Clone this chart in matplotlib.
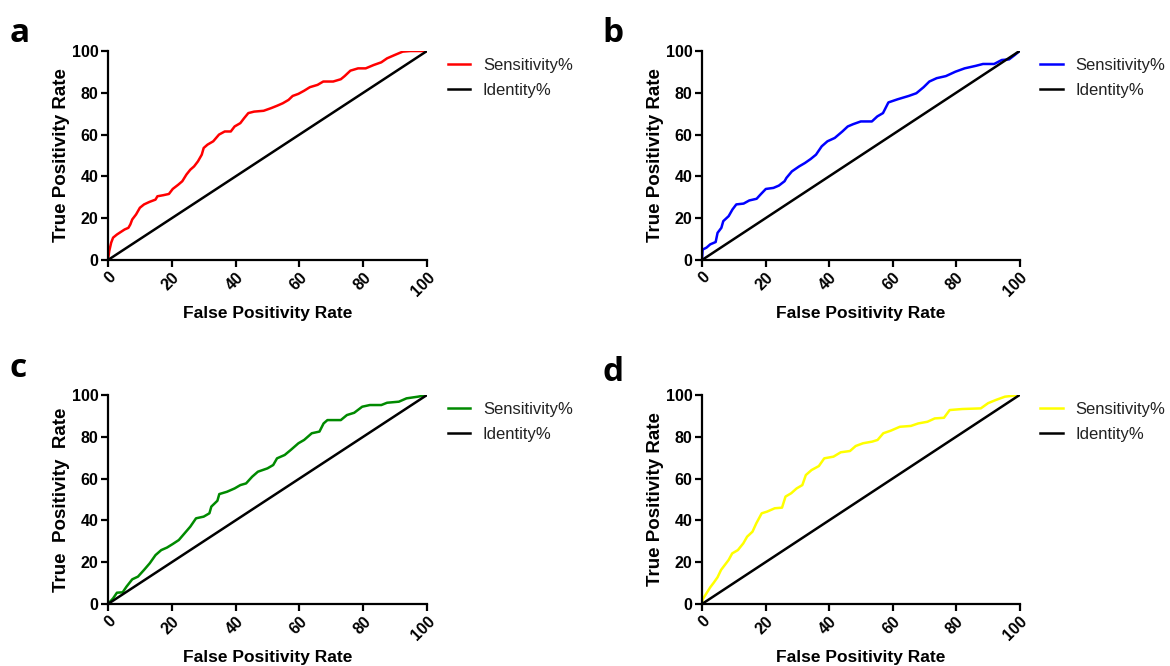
import matplotlib
matplotlib.use('Agg')
import matplotlib.pyplot as plt

plt.rcParams['font.family'] = ['Liberation Sans', 'DejaVu Sans']

# ROC curves (false positive %, true positive %)
fpr_a = [0, 0.4, 1, 1.6, 2.8, 4, 5.2, 6.4, 7, 7.6, 8.8, 10, 11.3, 13, 14.9, 15.5, 17.3, 19.1,
         20.3, 22, 23.3, 24.6, 25.8, 27, 28.2, 29.4, 30, 31.2, 33, 34.8, 36.6, 38.5, 39.7, 41.5,
         42.7, 44, 45.8, 48.8, 51.2, 53, 54.8, 56.6, 57.9, 59.7, 61.5, 63.3, 65.7, 67.5, 70.6,
         73, 74.2, 76, 78.4, 80.8, 83.3, 85.7, 87.5, 89.9, 92.4, 94.8, 100]
tpr_a = [0, 4.3, 8.3, 10.7, 12.2, 13.4, 14.6, 15.4, 17, 19.4, 21.8, 25, 26.6, 27.8, 28.9, 30.5,
         31, 31.6, 34, 36, 37.7, 40.9, 43.2, 44.8, 47.2, 50.4, 53.6, 55.2, 56.8, 60, 61.5, 61.5,
         63.9, 65.5, 67.9, 70.3, 71, 71.4, 72.7, 73.8, 75, 76.6, 78.5, 79.5, 81, 82.7, 83.8, 85.4,
         85.4, 86.5, 88, 90.6, 91.7, 91.7, 93.3, 94.6, 96.5, 98.1, 99.7, 100, 100]

fpr_b = [0, 0.2, 1.4, 2.6, 4.3, 4.9, 6.1, 6.7, 8.4, 9.6, 10.8, 13.1, 14.9, 17.2, 18.4, 20.1,
         22.5, 24.2, 26, 26.6, 28.3, 30.6, 32.4, 34.2, 35.9, 37.7, 39.5, 41.8, 44.2, 45.9, 47.6,
         50, 53.5, 55.2, 57, 58.7, 61.6, 65.1, 67.5, 69.8, 71.6, 73.9, 76.8, 79.8, 82.7, 86.2,
         88.5, 92, 94.4, 96.7, 98.5, 100]
tpr_b = [0, 5, 5.9, 7.5, 8.6, 13, 15.4, 18.6, 21, 24.2, 26.6, 27, 28.5, 29.3, 31.3, 34, 34.5,
         35.6, 37.7, 39.3, 42.4, 44.8, 46.4, 48.3, 50.4, 54.4, 56.8, 58.4, 61.5, 63.9, 65, 66.3,
         66.3, 68.7, 70.3, 75.4, 76.9, 78.5, 79.8, 82.7, 85.4, 87, 88, 90.1, 91.7, 92.9, 93.8,
         93.8, 95.7, 96, 98.1, 100]

fpr_c = [0, 1.6, 2.8, 4.6, 5.8, 7.6, 9.4, 11.3, 13.1, 14.9, 16.7, 18.5, 20.3, 22.2, 24, 25.8,
         27.6, 30, 31.8, 32.4, 34.3, 34.9, 37.3, 39.7, 41.5, 43.3, 45.2, 47, 50, 51.8, 53, 55.4,
         57.3, 59.7, 61.5, 63.9, 66.3, 67.6, 68.8, 73, 74.9, 77.2, 79.7, 82.1, 85.7, 87.5, 91.2,
         93.6, 97.2, 100]
tpr_c = [0, 2.7, 5.4, 5.6, 8.3, 11.8, 13.1, 16.3, 19.5, 23.4, 25.8, 27, 28.7, 30.6, 33.8, 37,
         41, 41.8, 43.4, 46.6, 49.4, 52.6, 53.7, 55.3, 56.9, 57.7, 60.9, 63.3, 64.9, 66.5, 69.7,
         71.3, 73.7, 76.9, 78.5, 81.7, 82.5, 86.4, 88, 88, 90.4, 91.5, 94.4, 95.2, 95.2, 96.3,
         96.8, 98.4, 99.2, 100]

fpr_d = [0, 0.2, 1.4, 2.6, 3.7, 4.9, 6, 7.2, 8.4, 9.5, 11.3, 13, 14.2, 15.9, 17.1, 18.8, 20.5,
         22.9, 25.2, 26.3, 28.1, 29.8, 31.6, 32.7, 34.5, 36.8, 38.5, 41.4, 43.7, 46.6, 48.4, 50.7,
         53.6, 55.3, 57.1, 59.4, 62.3, 65.8, 68.1, 71, 73.3, 76.2, 78, 82, 87.8, 90.1, 92.5, 95.4,
         100]
tpr_d = [0, 2.2, 5.1, 8, 10.2, 12.8, 16.3, 18.7, 21.1, 24.2, 25.8, 29, 32.2, 34.6, 38.6, 43.4,
         44.2, 45.8, 46.1, 51.4, 53, 55.3, 56.9, 61.7, 64.1, 66, 69.7, 70.5, 72.6, 73.2, 75.6,
         76.9, 77.7, 78.5, 81.7, 82.9, 84.8, 85.2, 86.4, 87.2, 88.8, 89.1, 92.8, 93.3, 93.6, 96.1,
         97.6, 99.2, 100]

identity = [0, 100]
ticks = [0, 20, 40, 60, 80, 100]

panels = [
    ('a', fpr_a, tpr_a, '#ff0000', 'True Positivity Rate'),
    ('b', fpr_b, tpr_b, '#0000ff', 'True Positivity Rate'),
    ('c', fpr_c, tpr_c, '#008a00', 'True  Positivity  Rate'),
    ('d', fpr_d, tpr_d, '#ffff00', 'True Positivity Rate'),
]

# axes boxes in figure fraction (left, bottom, width, height)
boxes = [
    [0.0923, 0.6096, 0.2726, 0.3138],
    [0.6000, 0.6096, 0.2714, 0.3138],
    [0.0923, 0.0931, 0.2726, 0.3138],
    [0.6000, 0.0931, 0.2714, 0.3138],
]
letter_pos = [(0.008, 0.975), (0.515, 0.975), (0.008, 0.472), (0.515, 0.465)]

fig = plt.figure(figsize=(11.7, 6.66), dpi=100)

for (letter, fpr, tpr, color, ylab), box, lp in zip(panels, boxes, letter_pos):
    ax = fig.add_axes(box)
    ax.plot(fpr, tpr, color=color, lw=1.8, label='Sensitivity%')
    ax.plot(identity, identity, color='black', lw=1.8, label='Identity%')

    ax.set_xlim(0, 100)
    ax.set_ylim(0, 100)
    ax.set_xticks(ticks)
    ax.set_yticks(ticks)
    ax.spines['top'].set_visible(False)
    ax.spines['right'].set_visible(False)
    for s in ['left', 'bottom']:
        ax.spines[s].set_linewidth(1.6)
    ax.tick_params(direction='out', length=5, width=1.6, labelsize=11.5, pad=2)
    for lab in ax.get_xticklabels() + ax.get_yticklabels():
        lab.set_fontweight('bold')
    plt.setp(ax.get_xticklabels(), rotation=45, ha='right', va='top', rotation_mode='anchor')

    ax.set_xlabel('False Positivity Rate', fontsize=12.5, fontweight='bold')
    ax.set_ylabel(ylab, fontsize=13.5, fontweight='bold')
    ax.xaxis.set_label_coords(0.5, -0.22)
    ax.yaxis.set_label_coords(-0.12, 0.5)

    leg = ax.legend(loc='upper left', bbox_to_anchor=(1.066, 0.965), frameon=False,
                    fontsize=12, handlelength=1.35, handletextpad=0.75,
                    labelspacing=0.6, borderpad=0, borderaxespad=0)
    for t in leg.get_texts():
        t.set_color('#222222')

    fig.text(lp[0], lp[1], letter, fontsize=24, fontweight='bold',
             family='Open Sans', va='top', ha='left')

fig.savefig('out.png', dpi=100)
